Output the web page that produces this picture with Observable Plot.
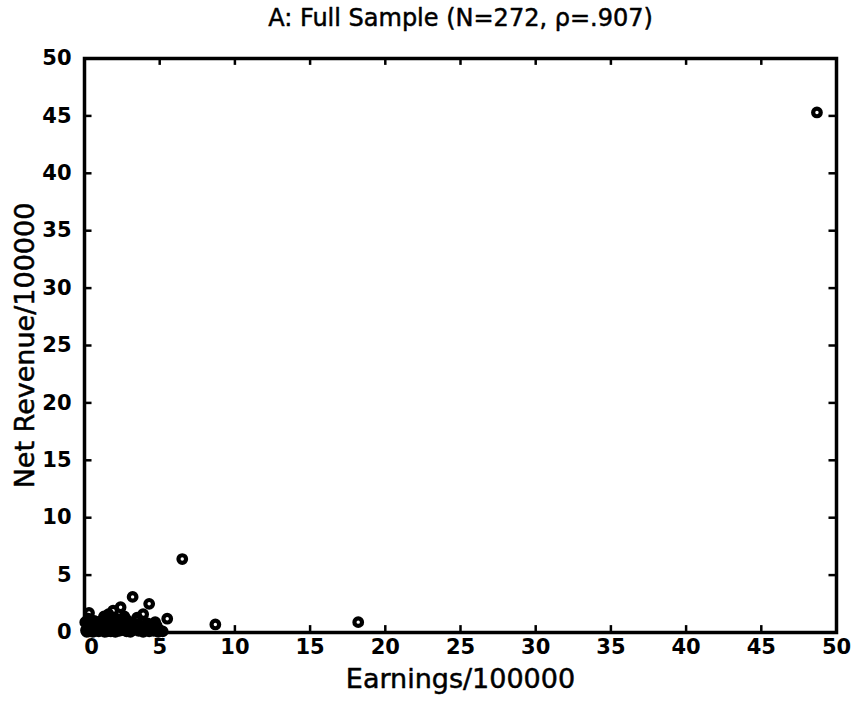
<!DOCTYPE html>
<html>
<head>
<meta charset="utf-8">
<script src="https://cdn.jsdelivr.net/npm/d3@7"></script>
<script src="https://cdn.jsdelivr.net/npm/@observablehq/plot@0.6"></script>
<style>
  html, body { margin: 0; padding: 0; background: #fff; }
  #chart svg { display: block; }
</style>
</head>
<body>
<div id="chart"></div>
<script>
// Earnings/100000 (x) and Net Revenue/100000 (y)
const earnings = [
  48.7, 6.5, 8.7, 18.2,
  0.3, 2.4, 1.9, 1.6, 3.2, 4.3, 3.9, 5.5, 4.7, 2.8, 3.5, 1.3,
  0.1, 0.2, 0.3, 0.4, 0.5, 0.6, 0.7, 0.8, 0.9, 1.0, 1.1, 1.2, 1.3, 1.4, 1.5, 1.6, 1.7, 1.8, 1.9, 2.0,
  2.1, 2.2, 2.3, 2.4, 2.5, 2.6, 2.7, 2.8, 2.9, 3.0, 3.1, 3.2, 3.4, 3.5, 3.6, 3.8, 4.0, 4.2, 4.4, 4.6, 4.8, 5.0,
  0.15, 0.35, 0.55, 0.75, 0.95, 1.15, 1.35, 1.55, 1.75, 1.95, 0.05, 0.25, 0.45, 0.65, 0.85, 1.05,
  1.25, 1.45, 1.65, 1.85, 2.05, 2.25, 2.45, 2.65, 2.85, 3.05, 3.3, 3.7, 3.9, 4.1, 4.3, 4.5, 4.7, 4.9, 5.2,
  0.6, 1.0, 1.4, 1.8, 2.2, 2.6, 3.0, 3.4, 0.8, 1.2, 1.6, 2.0, 2.4, 2.8, 3.2, 3.6, 4.0, 4.4,
  1.1, 1.5, 2.1, 2.7, 3.3, 3.8, 0.4, 0.9, 1.7, 2.3, 2.9, 4.2, 4.6
];
const revenue = [
  45.3, 6.4, 0.7, 0.9,
  1.7, 2.2, 1.9, 1.6, 3.1, 2.5, 1.6, 1.2, 0.9, 1.1, 1.3, 1.4,
  0.2, 0.5, 0.1, 0.8, 0.3, 0.6, 0.15, 0.4, 0.9, 0.2, 0.55, 1.1, 0.3, 0.7, 0.1, 0.45, 0.9, 0.25, 0.6, 1.3,
  0.35, 0.8, 0.15, 0.5, 1.0, 0.3, 0.7, 0.1, 0.45, 0.9, 0.2, 0.6, 0.35, 1.1, 0.15, 0.5, 0.25, 0.8, 0.4, 0.15, 0.6, 0.2,
  0.05, 0.35, 0.05, 0.5, 0.1, 0.3, 0.05, 0.8, 0.1, 0.35, 0.9, 1.2, 0.45, 1.0, 0.2, 0.7,
  0.45, 1.4, 0.2, 1.1, 0.05, 0.55, 0.2, 1.4, 0.25, 0.05, 0.45, 0.3, 0.05, 0.45, 0.1, 0.55, 0.3, 0.05, 0.1,
  0.4, 0.6, 0.5, 0.7, 0.4, 0.6, 0.5, 0.3, 0.3, 0.2, 0.3, 0.2, 0.3, 0.4, 0.2, 0.4, 0.5, 0.2,
  0.9, 1.0, 1.1, 1.2, 0.8, 0.9, 0.6, 0.7, 1.3, 1.0, 0.7, 0.6, 0.7
];
const tickValues = [0, 5, 10, 15, 20, 25, 30, 35, 40, 45, 50];
const innerTicks = [5, 10, 15, 20, 25, 30, 35, 40, 45];
const titleText = ["A: Full Sample (N=272, \u03C1=.907)"];
const xLabel = ["Earnings/100000"];
const yLabel = ["Net Revenue/100000"];

const points = earnings.map((e, i) => ({earnings: e, revenue: revenue[i]}));

const font = "DejaVu Sans";

const chart = Plot.plot({
  width: 855,
  height: 705,
  marginLeft: 84,
  marginRight: 19,
  marginTop: 58,
  marginBottom: 73,
  style: {fontFamily: font, background: "#fff", color: "#000"},
  x: {domain: [0, 50]},
  y: {domain: [0, 50]},
  marks: [
    Plot.axisX(tickValues.slice(1), {tickSize: 0, tickPadding: 7, fontSize: 21, fontWeight: "bold", label: null, fill: "#000"}),
    Plot.axisX(tickValues.slice(0, 1), {tickSize: 0, tickPadding: 7, dx: 7, fontSize: 21, fontWeight: "bold", label: null, fill: "#000"}),
    Plot.axisY(tickValues, {tickSize: 0, tickPadding: 13, fontSize: 21, fontWeight: "bold", label: null, fill: "#000"}),
    Plot.ruleX(innerTicks, {x: d => d, y1: 0, y2: 0.6, stroke: "#000", strokeWidth: 2.5}),
    Plot.ruleX(innerTicks, {x: d => d, y1: 50, y2: 49.4, stroke: "#000", strokeWidth: 2.5}),
    Plot.ruleY(innerTicks, {y: d => d, x1: 0, x2: 0.5, stroke: "#000", strokeWidth: 2.5}),
    Plot.ruleY(innerTicks, {y: d => d, x1: 50, x2: 49.5, stroke: "#000", strokeWidth: 2.5}),
    Plot.dot(points, {x: "earnings", y: "revenue", r: 3.8, stroke: "#000", strokeWidth: 4.2, fill: "none"}),
    Plot.frame({stroke: "#000", strokeWidth: 3.5}),
    Plot.text(titleText, {frameAnchor: "top", lineAnchor: "middle", dy: -40, fontSize: 24, fill: "#000", stroke: "#000", strokeWidth: 0.5, text: d => d}),
    Plot.text(xLabel, {frameAnchor: "bottom", lineAnchor: "middle", dy: 47, fontSize: 27, fill: "#000", stroke: "#000", strokeWidth: 0.5, text: d => d}),
    Plot.text(yLabel, {frameAnchor: "left", textAnchor: "middle", lineAnchor: "middle", dx: -59, rotate: -90, fontSize: 27, fill: "#000", stroke: "#000", strokeWidth: 0.5, text: d => d})
  ]
});
document.getElementById("chart").appendChild(chart);
</script>
</body>
</html>
